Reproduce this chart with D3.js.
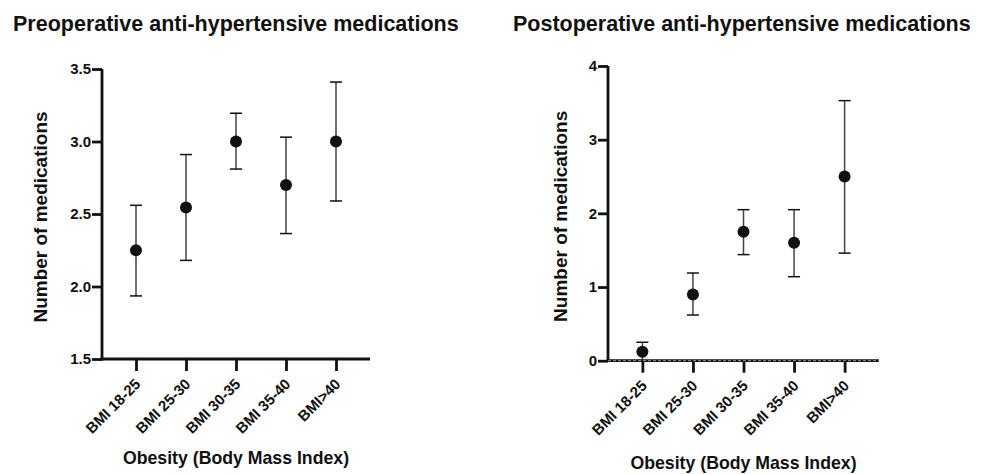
<!DOCTYPE html>
<html>
<head>
<meta charset="utf-8">
<script src="https://cdn.jsdelivr.net/npm/d3@7"></script>
<style>
  body { margin: 0; background: #fff; }
  svg { display: block; font-family: "Liberation Sans", Arial, sans-serif; }
</style>
</head>
<body>
<div class="vis"></div>
<script>
// data
const categories = ['BMI 18-25', 'BMI 25-30', 'BMI 30-35', 'BMI 35-40', 'BMI>40'];

const preMean = [2.25, 2.545, 3.0, 2.70, 3.0];
const preLow  = [1.935, 2.18, 2.81, 2.365, 2.59];
const preHigh = [2.56, 2.91, 3.195, 3.03, 3.41];
const preTicks = [1.5, 2.0, 2.5, 3.0, 3.5];

const postMean = [0.12, 0.90, 1.75, 1.60, 2.50];
const postLow  = [0, 0.62, 1.44, 1.14, 1.46];
const postHigh = [0.25, 1.19, 2.05, 2.05, 3.53];
const postTicks = [0, 1, 2, 3, 4];

const width = 984;
const height = 474;

const svg = d3.select('.vis').append('svg')
  .attr('width', width)
  .attr('height', height);

function drawPanel(opt) {
  const g = svg.append('g');

  // x scale (categories)
  const x = d3.scalePoint()
    .domain(categories)
    .range([opt.x0, opt.x1])
    .padding(0.68);

  // y scale
  const y = d3.scaleLinear()
    .domain(opt.domain)
    .range([opt.y0, opt.y1]);

  const rows = categories.map((c, i) => ({
    cat: c, mean: opt.mean[i], low: opt.low[i], high: opt.high[i]
  }));

  // error bars
  const bars = g.selectAll('.err').data(rows).enter().append('g').attr('class', 'err');
  bars.append('line')
    .attr('x1', d => x(d.cat)).attr('x2', d => x(d.cat))
    .attr('y1', d => y(d.low)).attr('y2', d => y(d.high))
    .attr('stroke', '#444').attr('stroke-width', 1.5);
  bars.append('line')
    .attr('x1', d => x(d.cat) - 6).attr('x2', d => x(d.cat) + 6)
    .attr('y1', d => y(d.high)).attr('y2', d => y(d.high))
    .attr('stroke', '#111').attr('stroke-width', 1.5);
  bars.append('line')
    .attr('x1', d => x(d.cat) - 6).attr('x2', d => x(d.cat) + 6)
    .attr('y1', d => y(d.low)).attr('y2', d => y(d.low))
    .attr('stroke', '#111').attr('stroke-width', 1.5);

  // axes
  const yAxis = g.append('g')
    .attr('transform', `translate(${opt.x0},0)`)
    .call(d3.axisLeft(y).tickValues(opt.ticks).tickFormat(d3.format(opt.fmt))
      .tickSize(10).tickSizeOuter(0).tickPadding(1));

  const xAxis = g.append('g')
    .attr('transform', `translate(0,${opt.y0})`)
    .call(d3.axisBottom(x).tickSize(12).tickSizeOuter(0));

  [yAxis, xAxis].forEach(a => {
    a.select('.domain').attr('stroke', '#111').attr('stroke-width', 2.8);
    a.selectAll('.tick line').attr('stroke', '#111').attr('stroke-width', 2.8);
    a.selectAll('text').attr('fill', '#111').attr('font-size', 15).attr('font-weight', 'bold');
  });
  yAxis.select('.domain').attr('d', `M0,${opt.y0 + 1.4}V${opt.y1}`);
  xAxis.select('.domain').attr('d', `M${opt.x0 - 1.4},0H${opt.x1}`);

  xAxis.selectAll('text')
    .attr('x', 0).attr('y', 0).attr('dy', 0)
    .attr('text-anchor', 'end')
    .attr('transform', 'translate(5,26) rotate(-45)');

  // dashed zero line
  if (opt.zeroLine) {
    g.append('line')
      .attr('x1', opt.x0).attr('x2', opt.x1)
      .attr('y1', y(0)).attr('y2', y(0))
      .attr('stroke', '#999').attr('stroke-width', 1)
      .attr('stroke-dasharray', '3,2');
  }

  // points
  g.selectAll('.pt').data(rows).enter().append('circle')
    .attr('class', 'pt')
    .attr('cx', d => x(d.cat))
    .attr('cy', d => y(d.mean))
    .attr('r', 6)
    .attr('fill', '#111');

  // titles
  g.append('text')
    .attr('x', opt.titleX).attr('y', 31)
    .attr('font-size', 21.5).attr('font-weight', 'bold').attr('fill', '#111')
    .text(opt.title);

  g.append('text')
    .attr('transform', `translate(${opt.ylabX},${(opt.y0 + opt.y1) / 2 + 3}) rotate(-90)`)
    .attr('text-anchor', 'middle')
    .attr('font-size', 19).attr('font-weight', 'bold').attr('fill', '#111')
    .text('Number of medications');

  g.append('text')
    .attr('x', (opt.x0 + opt.x1) / 2).attr('y', opt.xlabY)
    .attr('text-anchor', 'middle')
    .attr('font-size', 17.7).attr('font-weight', 'bold').attr('fill', '#111')
    .text('Obesity (Body Mass Index)');
}

drawPanel({
  x0: 102, x1: 370, y0: 359, y1: 69,
  domain: [1.5, 3.5], ticks: preTicks, fmt: '.1f',
  mean: preMean, low: preLow, high: preHigh,
  title: 'Preoperative anti-hypertensive medications', titleX: 13,
  ylabX: 47, xlabY: 464, zeroLine: false
});

drawPanel({
  x0: 608, x1: 879, y0: 360.7, y1: 66,
  domain: [0, 4], ticks: postTicks, fmt: 'd',
  mean: postMean, low: postLow, high: postHigh,
  title: 'Postoperative anti-hypertensive medications', titleX: 513,
  ylabX: 567, xlabY: 469, zeroLine: true
});
</script>
</body>
</html>
